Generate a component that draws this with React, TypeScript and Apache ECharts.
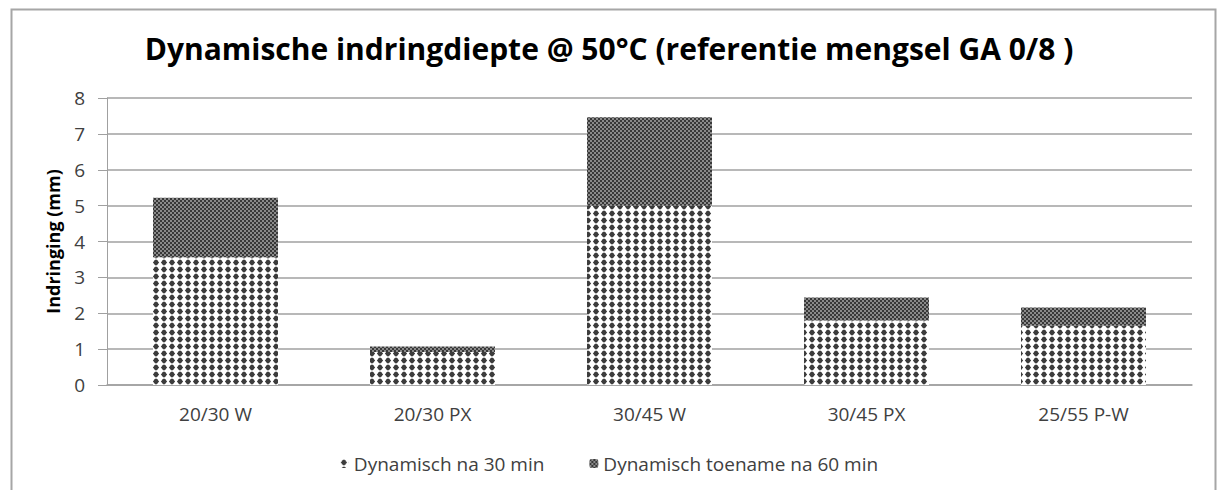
import React, { useEffect, useRef } from "react";
import * as echarts from "echarts";

const categories = ["20/30 W", "20/30 PX", "30/45 W", "30/45 PX", "25/55 P-W"];
const na30 = [3.56, 0.92, 5.0, 1.8, 1.65];
const toename60 = [1.66, 0.15, 2.46, 0.64, 0.51];
const yTicks = [0, 1, 2, 3, 4, 5, 6, 7, 8];
const seriesNames = ["Dynamisch na 30 min", "Dynamisch toename na 60 min"];

function dotPattern(): string {
  const c = document.createElement("canvas");
  c.width = 8;
  c.height = 7;
  const g = c.getContext("2d")!;
  g.fillStyle = "#ffffff";
  g.fillRect(0, 0, 8, 7);
  g.fillStyle = "#3c3c3c";
  g.beginPath();
  g.moveTo(4, 0.3);
  g.lineTo(7.1, 3.5);
  g.lineTo(4, 6.7);
  g.lineTo(0.9, 3.5);
  g.closePath();
  g.fill();
  g.beginPath();
  g.arc(4, 3.5, 2.4, 0, Math.PI * 2);
  g.fill();
  return c.toDataURL();
}

function checkPattern(): string {
  const c = document.createElement("canvas");
  c.width = 4;
  c.height = 4;
  const g = c.getContext("2d")!;
  g.fillStyle = "#8a8a8a";
  g.fillRect(0, 0, 4, 4);
  g.fillStyle = "#383838";
  g.fillRect(0, 0, 2, 2);
  g.fillRect(2, 2, 2, 2);
  return c.toDataURL();
}

export default function App() {
  const ref = useRef<HTMLDivElement>(null);
  useEffect(() => {
    if (!ref.current) return;
    const chart = echarts.init(ref.current, undefined, { renderer: "svg" });
    const dots = { image: dotPattern(), repeat: "repeat" } as any;
    const checks = { image: checkPattern(), repeat: "repeat" } as any;
    const font = "'Open Sans', sans-serif";
    chart.setOption({
      animation: false,
      backgroundColor: "#ffffff",
      textStyle: { fontFamily: font },
      title: {
        text: "Dynamische indringdiepte @ 50°C (referentie mengsel GA 0/8 )",
        left: "center",
        top: 28,
        textStyle: { fontFamily: font, fontWeight: "bold", fontSize: 30, color: "#000000" },
      },
      graphic: [
        {
          type: "polyline",
          shape: { points: [[11.5, 500], [11.5, 9.5], [1215.5, 9.5], [1215.5, 500]] },
          style: { stroke: "#a6a6a6", lineWidth: 2, fill: "none" },
          silent: true,
        },
      ],
      legend: {
        bottom: 12,
        left: "center",
        itemGap: 45,
        itemWidth: 9,
        itemHeight: 9,
        textStyle: { fontFamily: font, fontSize: 19, color: "#404040" },
        data: seriesNames,
      },
      grid: { left: 107, right: 26, top: 98, bottom: 105, containLabel: false },
      xAxis: {
        type: "category",
        data: categories,
        axisLine: { lineStyle: { color: "#a0a0a0", width: 1.5 } },
        axisTick: { show: false },
        axisLabel: { color: "#404040", fontSize: 19, margin: 19, fontFamily: font },
      },
      yAxis: {
        type: "value",
        min: yTicks[0],
        max: yTicks[yTicks.length - 1],
        interval: 1,
        name: "Indringing (mm)",
        nameLocation: "middle",
        nameGap: 45,
        nameTextStyle: { fontFamily: font, fontWeight: "bold", fontSize: 18, color: "#000000" },
        axisLine: { show: true, lineStyle: { color: "#a0a0a0" } },
        axisTick: { show: true, length: 9, lineStyle: { color: "#a0a0a0" } },
        axisLabel: { color: "#404040", fontSize: 19, margin: 22, fontFamily: font },
        splitLine: { lineStyle: { color: "#a0a0a0", width: 1.5 } },
      },
      series: [
        {
          name: seriesNames[0],
          type: "bar",
          stack: "total",
          barWidth: "57.6%",
          data: na30,
          itemStyle: { color: dots },
        },
        {
          name: seriesNames[1],
          type: "bar",
          stack: "total",
          data: toename60,
          itemStyle: { color: checks },
        },
      ],
    });
    return () => chart.dispose();
  }, []);
  return <div ref={ref} style={{ width: 1218, height: 490, position: "absolute", left: 0, top: 0 }} />;
}
